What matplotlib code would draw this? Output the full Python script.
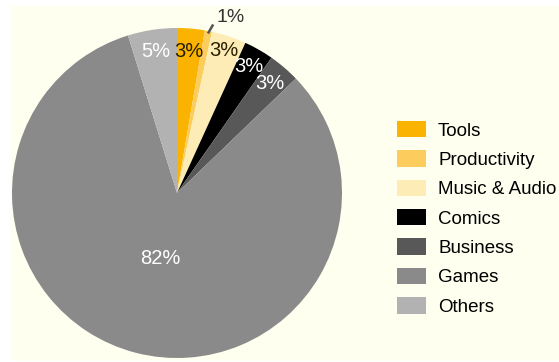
import numpy as np
import matplotlib.pyplot as plt
from matplotlib.patches import Rectangle, Patch
from matplotlib import font_manager

categories = ["Tools", "Productivity", "Music & Audio", "Comics", "Business", "Games", "Others"]
shares = [2.7, 0.7, 3.4, 2.9, 3.1, 82.4, 4.8]
colors = ["#F9B300", "#FCCC5C", "#FEECB6", "#000000", "#585858", "#8A8A8A", "#B2B2B2"]
label_colors = ["#2A2000", "#333333", "#2A2000", "#FFFFFF", "#FFFFFF", "#FFFFFF", "#FFFFFF"]
label_radius = [0.86, None, 0.91, 0.88, 0.87, 0.41, 0.87]

names = {f.name for f in font_manager.fontManager.ttflist}
family = "Liberation Sans Narrow" if "Liberation Sans Narrow" in names else "Liberation Sans"

W, H, DPI = 559, 362, 100
fig = plt.figure(figsize=(W / DPI, H / DPI), dpi=DPI)
fig.patch.set_facecolor("white")
fig.patches.append(Rectangle((11 / W, 1 / H), 1 - 11 / W, 1 - 7 / H,
                             transform=fig.transFigure, facecolor="#FEFFEF",
                             edgecolor="none", zorder=-5))

# Pie axes: centre (177, 193) px, radius 165 px
cx, cy, r = 177, 193, 165
ax = fig.add_axes([(cx - r) / W, (H - cy - r) / H, 2 * r / W, 2 * r / H])
ax.set_zorder(2)
ax.set_facecolor("none")
wedges, _ = ax.pie(shares, colors=colors, startangle=90, counterclock=False,
                   radius=1.0, wedgeprops=dict(linewidth=0))
ax.set_xlim(-1, 1)
ax.set_ylim(-1, 1)
ax.set_aspect("equal")
ax.axis("off")

for w, val, lc, lr in zip(wedges, shares, label_colors, label_radius):
    mid = np.deg2rad((w.theta1 + w.theta2) / 2)
    txt = f"{val:.0f}%"
    if lr is None:
        # small slice: label outside with a short leader line
        x0, y0 = 0.985 * np.cos(mid), 0.985 * np.sin(mid)
        x1, y1 = 1.02 * np.cos(mid) + 0.025, 1.02 * np.sin(mid) + 0.02
        ax.plot([x0, x1], [y0, y1], color="#555555", lw=1.8, clip_on=False,
                solid_capstyle="butt")
        ax.text(x1 + 0.02, y1 - 0.01, txt, color=lc, fontsize=14, family=family,
                ha="left", va="bottom")
    else:
        ax.text(lr * np.cos(mid), lr * np.sin(mid), txt, color=lc, fontsize=14.5,
                family=family, ha="center", va="center")

handles = [Patch(facecolor=c, edgecolor="none") for c in colors]
leg = fig.legend(handles, categories, loc="upper left",
                 bbox_to_anchor=(397 / W, 1 - 121 / H), frameon=False,
                 prop=dict(family=family, size=13.5), handlelength=1.55,
                 handleheight=0.96, handletextpad=0.64, labelspacing=0.575,
                 borderpad=0, borderaxespad=0)

fig.savefig("out.png", dpi=DPI, facecolor=fig.get_facecolor())
